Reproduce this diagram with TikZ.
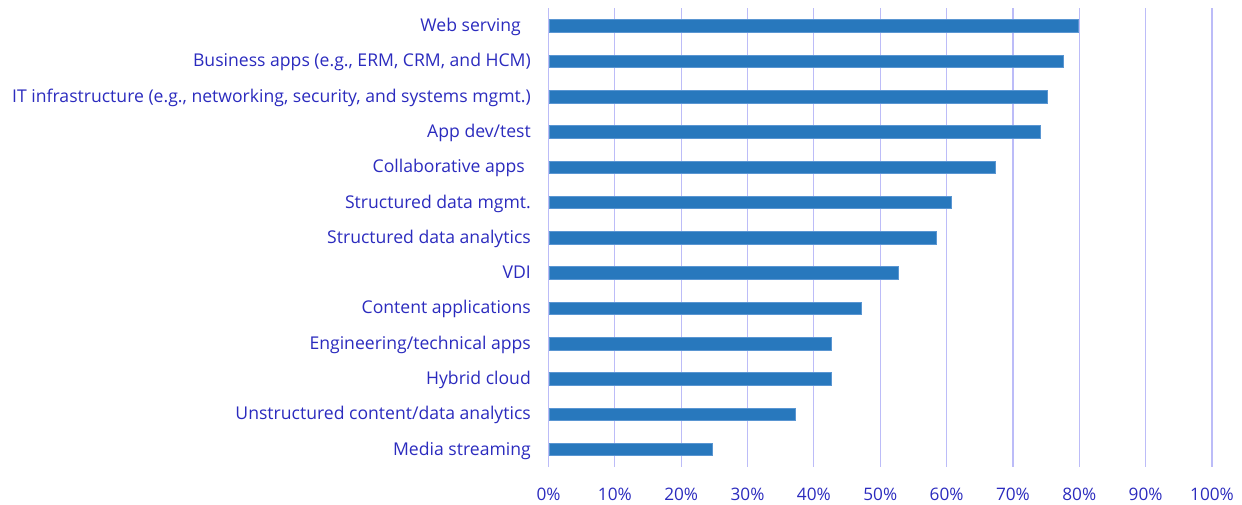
\documentclass[tikz,border=0pt]{standalone}
\usepackage{fontspec}
\setmainfont{Open Sans}
\definecolor{lbl}{HTML}{2B2BBE}
\definecolor{bar}{HTML}{2878BD}
\definecolor{baredge}{HTML}{5A96D2}
\definecolor{grid}{HTML}{BCBCF8}
\tikzset{
  lab/.style={anchor=base east, text=lbl, font=\fontsize{17.6}{20}\selectfont, inner sep=0pt},
  tick/.style={anchor=base, text=lbl, font=\fontsize{17.2}{20}\selectfont, inner sep=0pt},
  barbox/.style={fill=bar, draw=baredge, line width=0.6pt},
  gridline/.style={draw=grid, line width=1.1pt}
}
\begin{document}
\begin{tikzpicture}[x=1pt,y=-1pt]
\useasboundingbox (0,0) rectangle (1242,504);
% gridlines
\foreach \i in {0,...,10} {
  \coordinate (gt\i) at ({548.5+66.35*\i},8);
  \coordinate (gb\i) at ({548.5+66.35*\i},467);
  \draw[gridline] (gt\i) -- (gb\i);
  \pgfmathtruncatemacro{\pct}{10*\i}
  \node[tick] (tk\i) at ({548.5+66.35*\i},500) {\pct\%};
}
% bars
\foreach \v [count=\k from 0] in {79.8,77.6,75.2,74.1,67.4,60.7,58.4,52.7,47.2,42.6,42.6,37.2,24.7} {
  \pgfmathsetmacro{\yc}{26+35.29*\k}
  \filldraw[barbox] (549.5,{\yc-6.3}) rectangle ({548.5+6.635*\v},{\yc+6.3});
}
% labels (baseline = bar centre + 5.6)
\node[lab] (l0) at (531,31.6) {Web serving\hspace*{10pt}};
\node[lab] (l1) at (531,66.9) {Business apps (e.g., ERM, CRM, and HCM)};
\node[lab] (l2) at (531,102.2) {IT infrastructure (e.g., networking, security, and systems mgmt.)};
\node[lab] (l3) at (531,137.5) {App dev/test};
\node[lab] (l4) at (531,172.8) {Collaborative apps\hspace*{6pt}};
\node[lab] (l5) at (531,208.1) {Structured data mgmt.};
\node[lab] (l6) at (531,243.3) {Structured data analytics};
\node[lab] (l7) at (531,278.6) {VDI};
\node[lab] (l8) at (531,313.9) {Content applications};
\node[lab] (l9) at (531,349.2) {Engineering/technical apps};
\node[lab] (l10) at (531,384.5) {Hybrid cloud};
\node[lab] (l11) at (531,419.8) {Unstructured content/data analytics};
\node[lab] (l12) at (531,455.1) {Media streaming};
\end{tikzpicture}
\end{document}
